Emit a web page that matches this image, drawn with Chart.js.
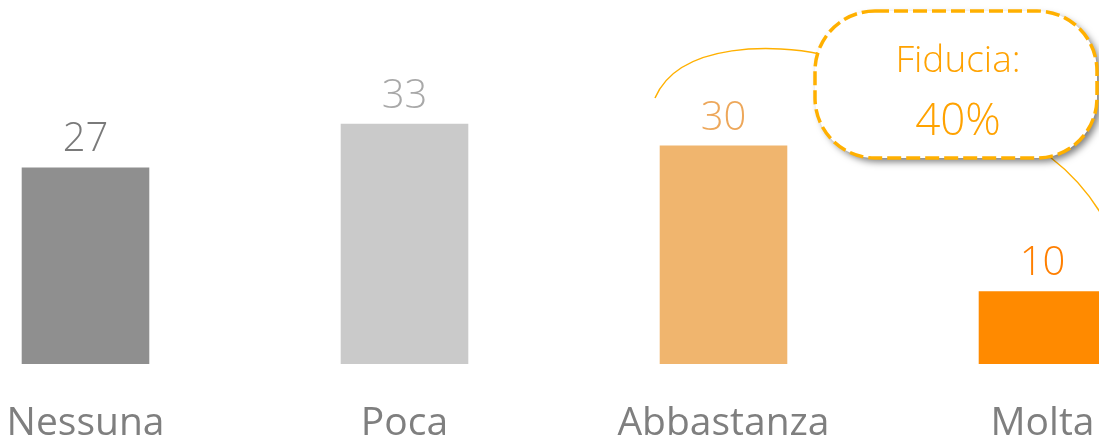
<!DOCTYPE html>
<html>
<head>
<meta charset="utf-8">
<script src="https://cdn.jsdelivr.net/npm/chart.js@4.4.0/dist/chart.umd.min.js"></script>
<style>
  html, body { margin: 0; padding: 0; background: #ffffff; overflow: hidden; }
  #wrap { position: absolute; left: -74px; top: 0; width: 1276px; height: 439px; }
</style>
</head>
<body>
<div id="wrap"><canvas id="chart"></canvas></div>
<script>
  const categories = ['Nessuna', 'Poca', 'Abbastanza', 'Molta'];
  const values = [27, 33, 30, 10];
  const barColors = ['#8f8f8f', '#cacaca', '#f0b56e', '#ff8a00'];
  const labelColors = ['#7a7a7a', '#a8a8a8', '#eda75a', '#ff7f00'];
  const calloutLines = ['Fiducia:', '40%'];

  const OFFSET_X = 74; // canvas is shifted left

  const valueLabels = {
    id: 'valueLabels',
    afterDatasetsDraw(chart) {
      const ctx = chart.ctx;
      const xScale = chart.scales.x;
      chart.getDatasetMeta(0).data.forEach((bar, i) => {
        ctx.save();
        ctx.textAlign = 'center';
        ctx.textBaseline = 'alphabetic';
        ctx.fillStyle = labelColors[i];
        ctx.font = '300 40px "Open Sans", sans-serif';
        ctx.fillText(String(values[i]), bar.x, bar.y - 16);
        ctx.fillStyle = '#7f7f7f';
        ctx.font = '39px "Open Sans", sans-serif';
        ctx.fillText(categories[i], xScale.getPixelForValue(i), 435);
        ctx.restore();
      });
    },
  };

  const callout = {
    id: 'callout',
    afterDraw(chart) {
      const ctx = chart.ctx;
      ctx.save();
      ctx.translate(OFFSET_X, 0);

      // connector curves
      ctx.strokeStyle = '#ffb000';
      ctx.lineWidth = 1.5;
      ctx.beginPath();
      ctx.moveTo(655, 98);
      ctx.bezierCurveTo(680, 40, 780, 45, 820, 54);
      ctx.stroke();
      ctx.beginPath();
      ctx.moveTo(1050, 157);
      ctx.quadraticCurveTo(1080, 180, 1100, 212);
      ctx.stroke();

      // bubble
      const x = 815, y = 11, w = 282, h = 147, r = 60;
      ctx.beginPath();
      ctx.roundRect(x, y, w, h, r);
      ctx.shadowColor = 'rgba(0, 0, 0, 0.5)';
      ctx.shadowBlur = 7;
      ctx.shadowOffsetX = 4;
      ctx.shadowOffsetY = 4;
      ctx.fillStyle = '#ffffff';
      ctx.fill();
      ctx.shadowColor = 'transparent';
      ctx.setLineDash([14, 5]);
      ctx.lineWidth = 3.5;
      ctx.strokeStyle = '#ffb000';
      ctx.stroke();
      ctx.setLineDash([]);

      ctx.fillStyle = '#ffa200';
      ctx.textAlign = 'center';
      ctx.textBaseline = 'alphabetic';
      ctx.font = '300 37px "Open Sans", sans-serif';
      ctx.fillText(calloutLines[0], 958, 72);
      ctx.font = '300 44px "Open Sans", sans-serif';
      ctx.fillText(calloutLines[1], 958, 135);
      ctx.restore();
    },
  };

  new Chart(document.getElementById('chart'), {
    type: 'bar',
    data: {
      labels: categories,
      datasets: [{
        data: values,
        backgroundColor: barColors,
        barPercentage: 0.4,
        categoryPercentage: 1,
      }],
    },
    plugins: [valueLabels, callout],
    options: {
      responsive: true,
      maintainAspectRatio: false,
      animation: false,
      layout: { padding: { top: 0, bottom: 75, left: 0, right: 0 } },
      plugins: {
        legend: { display: false },
        tooltip: { enabled: false },
      },
      scales: {
        x: {
          display: false,
        },
        y: {
          display: false,
          min: 0,
          max: 50,
        },
      },
    },
  });
</script>
</body>
</html>
